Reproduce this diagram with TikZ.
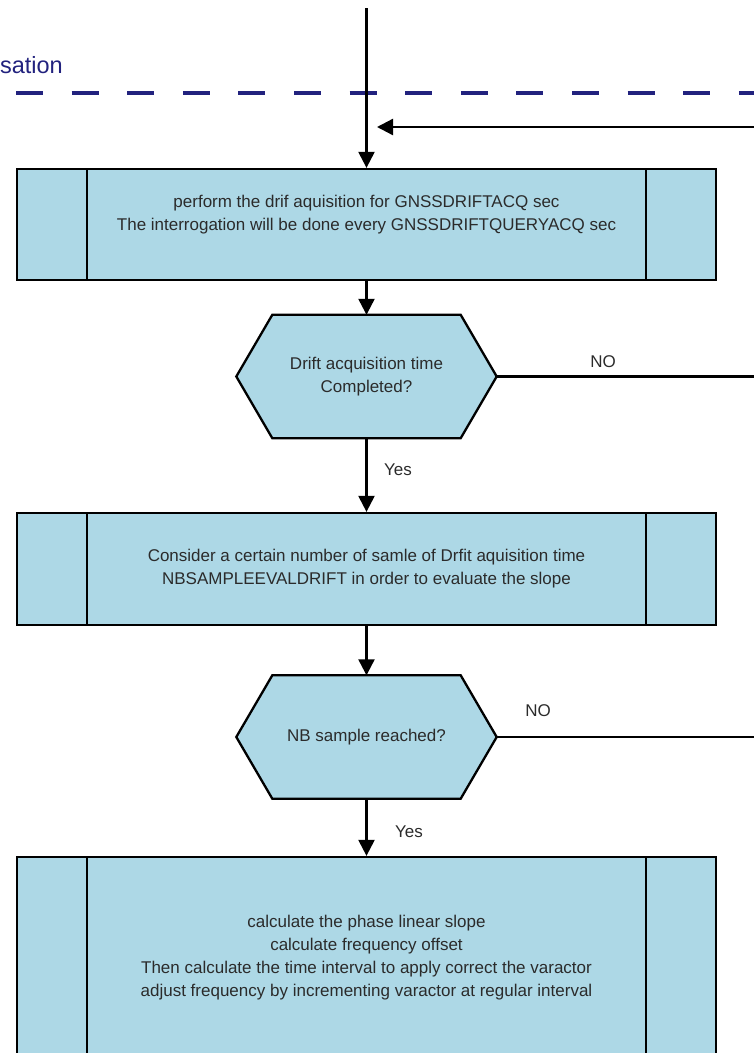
\documentclass[tikz,border=0pt]{standalone}
\usepackage{fontspec}
\setmainfont{Liberation Sans}
\usetikzlibrary{arrows.meta,positioning,calc,backgrounds}
\definecolor{boxblue}{HTML}{ADD8E6}
\definecolor{lane}{HTML}{22227E}
\definecolor{ink}{HTML}{2B2B2B}
\newcommand{\hexback}[1]{%
  \begin{scope}[on background layer]
    \draw[hexline] ([xshift=36pt]#1.north west) -- ([xshift=-36pt]#1.north east)
      -- (#1.east) -- ([xshift=-36pt]#1.south east)
      -- ([xshift=36pt]#1.south west) -- (#1.west) -- cycle;
  \end{scope}}

\begin{document}
\begin{tikzpicture}[x=1pt, y=-1pt,
  txt/.style={font=\fontsize{17}{23}\selectfont, text=ink},
  proc/.style={txt, draw, rectangle, fill=boxblue, line width=2.3pt,
    minimum width=699pt, inner sep=0pt, align=center,
    path picture={\draw[line width=2.3pt]
      ([xshift=70pt]path picture bounding box.north west) --
      ([xshift=70pt]path picture bounding box.south west)
      ([xshift=-70pt]path picture bounding box.north east) --
      ([xshift=-70pt]path picture bounding box.south east);}},
  hexa/.style={txt, rectangle, minimum width=260pt, minimum height=123pt,
    inner sep=0pt, align=center},
  hexline/.style={draw=black, fill=boxblue, line width=2.3pt, line join=miter},
  lnk/.style={-{Triangle[length=16pt,width=16pt]}, line width=2.3pt},
  ln/.style={line width=2.3pt},
  lbl/.style={txt, inner sep=0pt},
]
\useasboundingbox (0,0) rectangle (754,1053);

% lane boundary
\node[anchor=east, inner sep=0pt, text=lane,
  font=\fontsize{23.5}{28}\selectfont] (lanename) at (63,65) {sation};
\draw[lane, line width=3.5pt, dash pattern=on 27pt off 28.6pt] (16,93) -- (754,93);

% loose ends
\coordinate (start) at (366.5,8);
\coordinate (ret) at (754,127);
\coordinate (retend) at (377,127);
\coordinate (no1) at (754,376.5);
\coordinate (no2) at (754,737);

% steps
\node[proc, minimum height=111pt] (acq) at (366.5,224.5)
  {perform the drif aquisition for GNSSDRIFTACQ sec\\
   The interrogation will be done every GNSSDRIFTQUERYACQ sec\\\mbox{}};
\node[hexa] (done) at (366.5,376.5) {Drift acquisition time\\Completed?};
\hexback{done}
\node[proc, minimum height=112pt] (samp) at (366.5,569)
  {Consider a certain number of samle of Drfit aquisition time\\
   NBSAMPLEEVALDRIFT in order to evaluate the slope};
\node[hexa] (reach) at (366.5,737) {NB sample reached?};
\hexback{reach}
\node[proc, minimum height=202pt] (calc) at (366.5,958)
  {calculate the phase linear slope\\
   calculate frequency offset\\
   Then calculate the time interval to apply correct the varactor\\
   adjust frequency by incrementing varactor at regular interval};

% flow
\draw[lnk] (start) -- (acq.north);
\draw[lnk] (ret) -- (retend);
\draw[lnk] (acq) -- (done);
\draw[ln] (done.east) -- (no1);
\draw[lnk] (done) -- (samp);
\draw[lnk] (samp) -- (reach);
\draw[ln] (reach.east) -- (no2);
\draw[lnk] (reach) -- (calc);

\node[lbl] (no1lbl) at (603,362) {NO};
\node[lbl] (yes1lbl) at (398,470) {Yes};
\node[lbl] (no2lbl) at (538,711) {NO};
\node[lbl] (yes2lbl) at (409,832) {Yes};
\end{tikzpicture}
\end{document}
